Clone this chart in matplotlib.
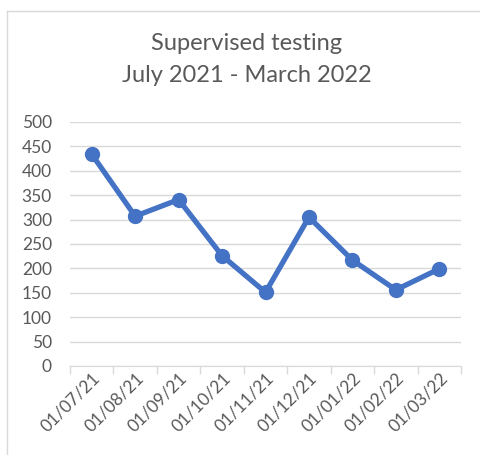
import matplotlib
matplotlib.use('Agg')
import matplotlib.pyplot as plt
from matplotlib.lines import Line2D

dates = ['01/07/21', '01/08/21', '01/09/21', '01/10/21', '01/11/21',
         '01/12/21', '01/01/22', '01/02/22', '01/03/22']
tests = [434, 307, 341, 226, 151, 305, 217, 156, 199]
yticks = [0, 50, 100, 150, 200, 250, 300, 350, 400, 450, 500]

plt.rcParams['font.family'] = ['Lato', 'DejaVu Sans']
grey = '#595959'
grid = '#D9D9D9'

fig = plt.figure(figsize=(4.8, 4.55), dpi=100)
ax = fig.add_axes([70/480, 1-366/455, (461-70)/480, (366-122)/455])

x = list(range(len(dates)))
ax.plot(x, tests, color='#4472C4', lw=3.8, marker='o', ms=10,
        solid_joinstyle='round', zorder=3)

ax.set_xlim(-0.5, len(dates) - 0.5)
ax.set_ylim(0, 500)
ax.set_yticks(yticks)
ax.set_yticklabels([str(v) for v in yticks], color=grey, fontsize=12.5)
ax.tick_params(axis='y', length=0, pad=13)
ax.yaxis.grid(True, color=grid, lw=1)
ax.set_axisbelow(True)

ax.set_xticks([i - 0.5 for i in range(len(dates) + 1)], minor=False)
ax.set_xticklabels([])
ax.tick_params(axis='x', which='major', length=6, color=grid, width=1)
ax.set_xticks(x, minor=True)
ax.set_xticklabels(dates, minor=True, rotation=45, ha='right',
                   rotation_mode='anchor', color=grey, fontsize=12.5)
ax.tick_params(axis='x', which='minor', length=0, pad=3)

for s in ['top', 'right', 'left']:
    ax.spines[s].set_visible(False)
ax.spines['bottom'].set_color(grid)

fig.text(247/480, 1-44/455, 'Supervised testing', ha='center', va='center',
         fontsize=17, color=grey)
fig.text(247/480, 1-75/455, 'July 2021 - March 2022', ha='center', va='center',
         fontsize=17, color=grey)

# chart frame (left and top edges visible)
fig.add_artist(Line2D([7/480, 7/480], [0, 1-11/455], color=grid, lw=1,
                      transform=fig.transFigure))
fig.add_artist(Line2D([7/480, 1], [1-11/455, 1-11/455], color=grid, lw=1,
                      transform=fig.transFigure))

fig.savefig('out.png', dpi=100)
